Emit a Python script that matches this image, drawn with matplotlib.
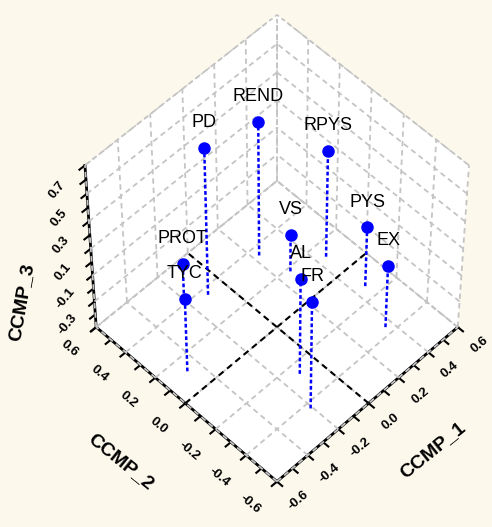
import matplotlib
matplotlib.use('Agg')
import matplotlib.pyplot as plt
import numpy as np
from mpl_toolkits.mplot3d import proj3d

names = ['REND', 'PD', 'RPYS', 'VS', 'PYS', 'EX', 'PROT', 'TYC', 'AL', 'FR']
ccmp1 = [0.23, -0.10, 0.45, 0.27, 0.46, 0.36, -0.20, -0.47, -0.11, -0.21]
ccmp2 = [0.35, 0.36, 0.12, 0.18, -0.13, -0.36, 0.42, 0.12, -0.26, -0.43]
ccmp3 = [0.59, 0.69, 0.39, -0.12, 0.05, 0.07, -0.12, 0.16, 0.33, 0.42]

xy_labels = [-0.6, -0.4, -0.2, 0.0, 0.2, 0.4, 0.6]
z_labels = [-0.3, -0.1, 0.1, 0.3, 0.5, 0.7]
xy_grid = [-0.6, -0.4, -0.2, 0.0, 0.2, 0.4, 0.6]
z_grid = [-0.4, -0.2, 0.0, 0.2, 0.4, 0.6, 0.8]
xlim = (-0.6, 0.6)
ylim = (-0.6, 0.6)
zlim = (-0.4, 0.8)

bg = '#fcf8ec'
gcol = '#c4c4c4'
plt.rcParams['font.family'] = ['Liberation Sans', 'DejaVu Sans']
plt.rcParams['axes.unicode_minus'] = False
plt.rcParams['lines.dashed_pattern'] = [3.0, 2.2]

fig = plt.figure(figsize=(4.92, 5.27), dpi=100, facecolor=bg)
ax = fig.add_axes([0.07, 0.026, 0.96, 0.98], projection='3d',
                  computed_zorder=False)
ax.set_facecolor(bg)
ax.view_init(elev=55, azim=-135)
ax.set_proj_type('persp', focal_length=1.5)
ax.set_box_aspect((1, 1, 1.07), zoom=0.96)

ax.set_xlim(*xlim)
ax.set_ylim(*ylim)
ax.set_zlim(*zlim)
# tick marks every 0.1, labels drawn separately
ax.set_xticks(np.round(np.arange(-6, 7) / 10, 1))
ax.set_yticks(np.round(np.arange(-6, 7) / 10, 1))
ax.set_zticks(np.round(np.arange(-4, 9) / 10, 1))
ax.set_xticklabels([])
ax.set_yticklabels([])
ax.set_zticklabels([])
ax.grid(False)
for axis in (ax.xaxis, ax.yaxis, ax.zaxis):
    axis.set_pane_color((1, 1, 1, 1))
    axis.pane.set_edgecolor(gcol)
    axis.pane.set_linestyle('--')
    axis.line.set_color('black')
    axis.line.set_linewidth(2)
    axis._axinfo['tick'].update({'inward_factor': 0.35, 'outward_factor': 0.0})
    axis._axinfo['tick']['linewidth'] = {True: 1.5, False: 1.0}
    axis._axinfo['tick']['color'] = 'black'

# grid on the floor and the two back walls
gkw = dict(color=gcol, ls='--', lw=1.3, zorder=1)
for v in xy_grid:
    ax.plot([v, v], ylim, [zlim[0]] * 2, **gkw)
    ax.plot(xlim, [v, v], [zlim[0]] * 2, **gkw)
    ax.plot([v, v], [ylim[1]] * 2, zlim, **gkw)
    ax.plot([xlim[1]] * 2, [v, v], zlim, **gkw)
for v in z_grid:
    ax.plot(xlim, [ylim[1]] * 2, [v, v], **gkw)
    ax.plot([xlim[1]] * 2, ylim, [v, v], **gkw)

# zero lines on the floor
ax.plot([0, 0], ylim, [zlim[0]] * 2, color='black', ls='--', lw=1.5, zorder=2)
ax.plot(xlim, [0, 0], [zlim[0]] * 2, color='black', ls='--', lw=1.5, zorder=2)

for x, y, z in zip(ccmp1, ccmp2, ccmp3):
    ax.plot([x, x], [y, y], [zlim[0], z], color='blue', ls=(0, (1.5, 1.0)),
            lw=1.8, zorder=3)
ax.plot(ccmp1, ccmp2, ccmp3, ls='none', marker='o', ms=8, color='blue', zorder=4)

M = ax.get_proj()


def label_at(x, y, z, s, dy=0, **kw):
    px, py, _ = proj3d.proj_transform(x, y, z, M)
    ax.annotate(s, (px, py), xytext=(0, dy), textcoords='offset points',
                annotation_clip=False, **kw)


# tick labels
tkw = dict(fontsize=9.5, fontweight='bold', ha='center', va='center', zorder=5)
for v in xy_labels:
    label_at(v, ylim[0] - 0.14, zlim[0], f'{v:.1f}', rotation=40, **tkw)
    label_at(xlim[0] - 0.17, v, zlim[0], f'{v:.1f}', rotation=-40, **tkw)
for v in z_labels:
    label_at(xlim[0] - 0.13, ylim[1] + 0.05, v, f'{v:.1f}', rotation=50, **tkw)

# point names
for name, x, y, z in zip(names, ccmp1, ccmp2, ccmp3):
    label_at(x, y, z, name, dy=12, ha='center', va='bottom', fontsize=13, zorder=5)

# axis titles sit beside the edges, placed in figure pixels
title_kw = dict(fontsize=14, fontweight='bold', ha='center', va='center')
fig.text(433 / 492, 1 - 450 / 527, 'CCMP_1', rotation=39, **title_kw)
fig.text(121 / 492, 1 - 462 / 527, 'CCMP_2', rotation=-39, **title_kw)
fig.text(22 / 492, 1 - 302 / 527, 'CCMP_3', rotation=80, **title_kw)

fig.savefig('out.png', dpi=100, facecolor=bg)
